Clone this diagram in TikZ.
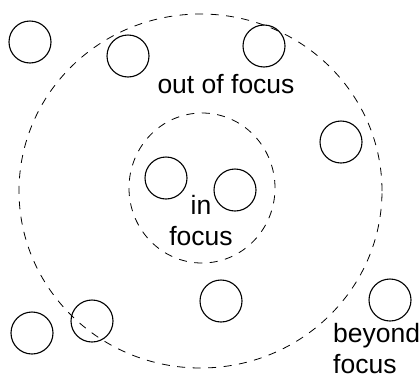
\documentclass[tikz,border=0pt]{standalone}
\usepackage{fontspec}
\setmainfont{Liberation Sans}
\usetikzlibrary{shapes.geometric}

\begin{document}
\begin{tikzpicture}[
		x=1pt, y=-1pt,
		font=\fontsize{26.5}{31}\selectfont,
		obj/.style={draw, circle, line width=1.1pt, minimum size=42pt, inner sep=0pt},
		zone/.style={draw, ellipse, dashed, line width=0.8pt, dash pattern=on 8pt off 7.5pt, inner sep=0pt},
		lbl/.style={align=center, inner sep=0pt, anchor=base}
		]
		
		\useasboundingbox (0,0) rectangle (419,378);
		
		% ==========================================
		% Focus zones
		% ==========================================
		\node (outer) [zone, minimum width=363pt, minimum height=354pt] at (200.5,191) {};
		\node (inner) [zone, minimum width=146pt, minimum height=150pt] at (202,188) {};
		
		% ==========================================
		% Objects
		% ==========================================
		\node (o1) [obj] at (30,42) {};
		\node (o2) [obj] at (128,56) {};
		\node (o3) [obj] at (264,46) {};
		\node (o4) [obj] at (341,142) {};
		\node (o5) [obj] at (166,178) {};
		\node (o6) [obj] at (235,190) {};
		\node (o7) [obj] at (221,301) {};
		\node (o8) [obj] at (32,333) {};
		\node (o9) [obj] at (92,321) {};
		\node (o10) [obj] at (390,300) {};
		
		% ==========================================
		% Labels
		% ==========================================
		\node (outlbl) [lbl] at (226,93) {out of focus};
		\node (inlbl) [lbl] at (201,245) {in\\focus};
		\node (beyondlbl) [lbl, align=left, anchor=base west] at (333,373) {beyond\\focus};
		
	\end{tikzpicture}
\end{document}
